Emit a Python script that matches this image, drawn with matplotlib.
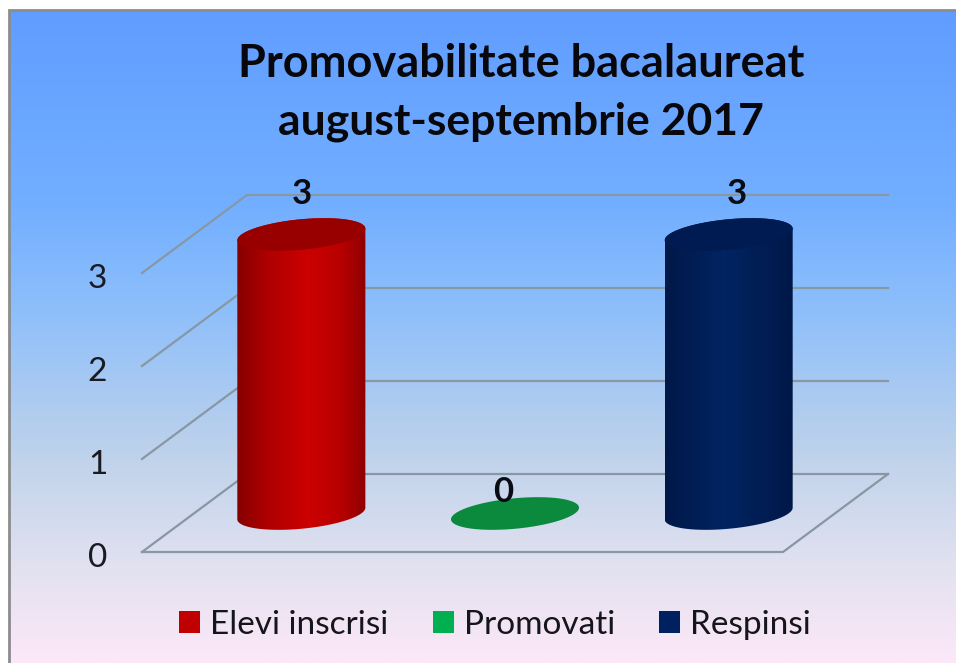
import numpy as np
import matplotlib
matplotlib.use("Agg")
import matplotlib.pyplot as plt
from matplotlib.colors import LinearSegmentedColormap
from matplotlib.patches import Polygon, Patch
from matplotlib.transforms import ScaledTranslation

# ---- data ----
categories = ["Elevi inscrisi", "Promovati", "Respinsi"]
values = [3, 0, 3]
y_ticks = [0, 1, 2, 3]
title_lines = ["Promovabilitate bacalaureat", "august-septembrie 2017"]

# ---- styles ----
legend_colors = ["#c00000", "#00b050", "#002060"]
cap_colors = ["#980000", "#0b8a3e", "#001b52"]
body_stops = [
    [(0, "#860000"), (0.25, "#b00000"), (0.55, "#cc0000"), (0.8, "#b80000"), (1, "#8f0000")],
    [(0, "#0b8a3e"), (1, "#0b8a3e")],
    [(0, "#001848"), (0.45, "#012462"), (1, "#001848")],
]
label_dx = [1, -12, 8]
grid_color = "#8797a3"
W, H = 956, 663

plt.rcParams["font.family"] = ["Lato", "DejaVu Sans"]
fig = plt.figure(figsize=(W / 100, H / 100), dpi=100, facecolor="white")

# background panel
bg = fig.add_axes([0, 0, 1, 1])
bg.axis("off")
bg_cmap = LinearSegmentedColormap.from_list("bg", [
    (0.0, "#609dff"), (0.30, "#73afff"), (0.45, "#8cbefb"),
    (0.68, "#bed2eb"), (0.85, "#e1e1f0"), (1.0, "#fce8f8")])
bg.imshow(np.linspace(0, 1, 400)[:, None], extent=(9, W, H, 10), cmap=bg_cmap,
          aspect="auto", zorder=0, vmin=0, vmax=1)
bg.plot([9, 9, W], [H, 10, 10], color="#8c8c8c", lw=2.0, zorder=1, solid_joinstyle="miter")
bg.set_xlim(0, W)
bg.set_ylim(H, 0)

# main axes: the front plane of the 3-D chart
L, R, B, T = 142, 783, 552, 273
ax = fig.add_axes([L / W, 1 - B / H, (R - L) / W, (B - T) / H])
ax.patch.set_alpha(0)
for s in ax.spines.values():
    s.set_visible(False)
UX = (R - L) / len(categories)
UY = (B - T) / max(y_ticks)
DEPTH_X, DEPTH_Y = 105 / UX, 78 / UY
xmin, xmax = -0.5, len(categories) - 0.5

# gridlines: back wall, side wall, floor
for v in y_ticks:
    ax.plot([xmin, xmin + DEPTH_X, xmax + DEPTH_X], [v, v + DEPTH_Y, v + DEPTH_Y],
            color=grid_color, lw=1.6, clip_on=False, zorder=1)
ax.plot([xmin, xmax, xmax + DEPTH_X], [0, 0, DEPTH_Y], color=grid_color, lw=1.6,
        clip_on=False, zorder=1)

# cylinders
A_PX, B_PX, PHI = 64.3, 15.2, np.deg2rad(5.5)


def ellipse(cx, cy, t):
    x = A_PX * np.cos(t) * np.cos(PHI) - B_PX * np.sin(t) * np.sin(PHI)
    y = A_PX * np.cos(t) * np.sin(PHI) + B_PX * np.sin(t) * np.cos(PHI)
    return np.column_stack([cx + x / UX, cy + y / UY])


t0 = np.arctan2(-B_PX * np.sin(PHI), A_PX * np.cos(PHI))
upper = np.linspace(t0, t0 + np.pi, 80)
lower = np.linspace(t0 + np.pi, t0 + 2 * np.pi, 80)
whole = np.linspace(0, 2 * np.pi, 160)

for i, v in enumerate(values):
    cx = i + 0.5 * DEPTH_X
    base = 38.5 / UY
    top = base + v
    if v > 0:
        outline = np.vstack([ellipse(cx, top, upper), ellipse(cx, base, lower)])
        cmap = LinearSegmentedColormap.from_list(f"c{i}", body_stops[i])
        x0, y0 = outline.min(axis=0)
        x1, y1 = outline.max(axis=0)
        im = ax.imshow(np.linspace(0, 1, 256)[None, :], extent=(x0, x1, y0, y1),
                       cmap=cmap, aspect="auto", zorder=3, vmin=0, vmax=1)
        poly = Polygon(outline, closed=True, transform=ax.transData, fc="none", ec="none")
        ax.add_patch(poly)
        poly.set_clip_on(False)
        im.set_clip_box(fig.bbox)
        im.set_clip_path(poly)
    ax.add_patch(Polygon(ellipse(cx, top, whole), closed=True, fc=cap_colors[i],
                         ec="none", zorder=4, clip_on=False))
    ax.annotate(str(v), xy=(cx, top), xytext=(label_dx[i], 40 if v else 22),
                textcoords="offset pixels", ha="center", va="center",
                fontsize=25, fontweight="bold", color="#0b0b14", zorder=6,
                annotation_clip=False)

ax.set_xlim(xmin, xmax)
ax.set_ylim(min(y_ticks), max(y_ticks))
ax.set_xticks([])
ax.set_yticks(y_ticks)
ax.set_yticklabels([str(t) for t in y_ticks], fontsize=24, color="#1a1a22")
ax.tick_params(axis="y", length=0, pad=25)
shift = ScaledTranslation(0, -2 / 72, fig.dpi_scale_trans)
for lab in ax.get_yticklabels():
    lab.set_transform(lab.get_transform() + shift)

# title
for line, y_px, size in zip(title_lines, (64, 122), (32.5, 32)):
    fig.text(521 / W, 1 - y_px / H, line, ha="center", va="center", fontsize=size,
             fontweight="bold", color="#08080c")

# legend
handles = [Patch(fc=c, ec="none", label=n) for c, n in zip(legend_colors, categories)]
fig.legend(handles=handles, loc="center", bbox_to_anchor=(495 / W, 1 - 625 / H), ncol=3,
           frameon=False, fontsize=24, handlelength=0.63, handleheight=0.63,
           handletextpad=0.3, columnspacing=1.32, labelcolor="#15151c")

fig.savefig("out.png", dpi=100)
